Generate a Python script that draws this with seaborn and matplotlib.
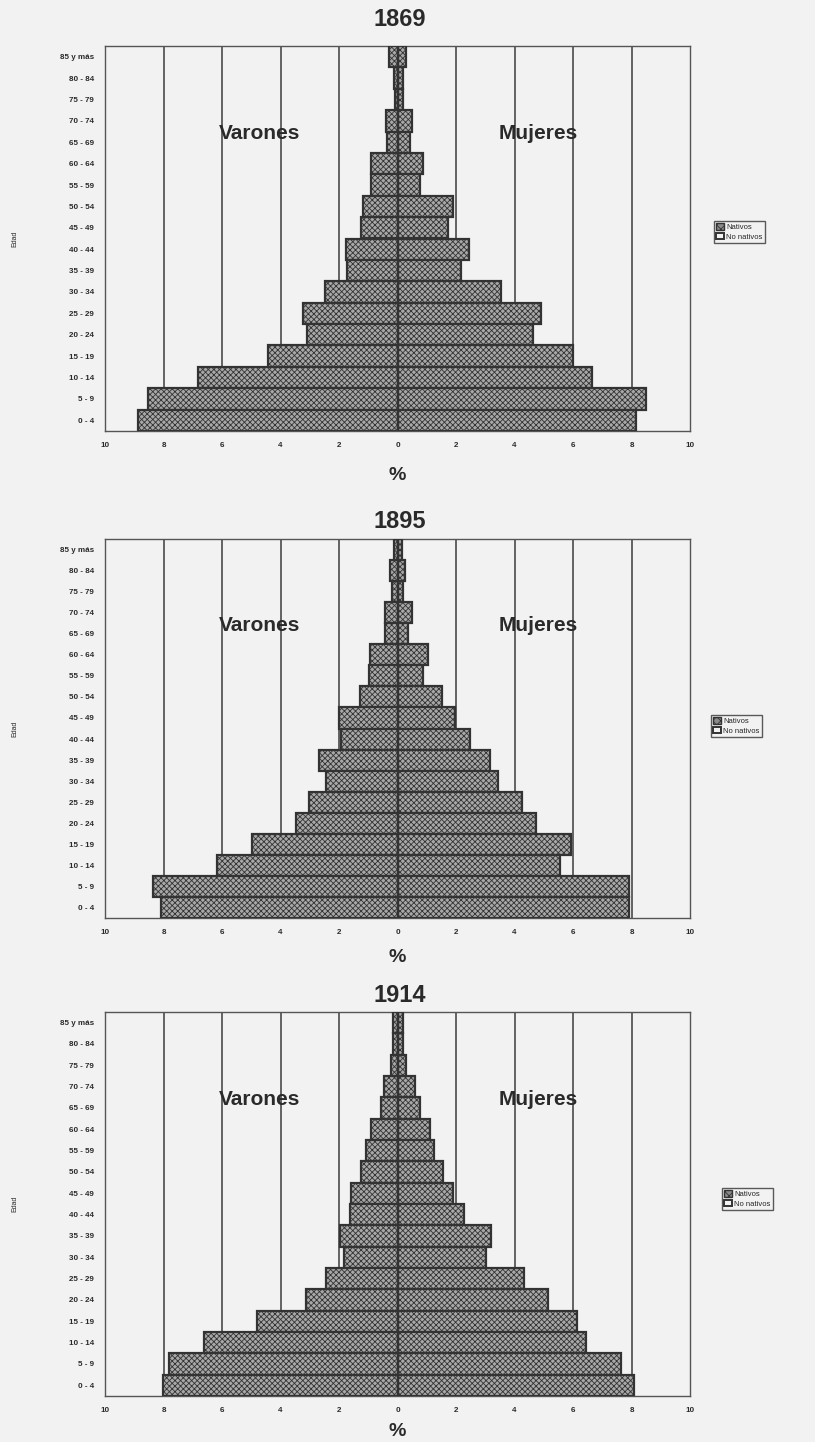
import numpy as np
import pandas as pd
import seaborn as sns
import matplotlib.pyplot as plt
from matplotlib.patches import Patch

# age groups, listed top (oldest) to bottom (youngest)
ages = ['85 y más', '80 - 84', '75 - 79', '70 - 74', '65 - 69', '60 - 64',
        '55 - 59', '50 - 54', '45 - 49', '40 - 44', '35 - 39', '30 - 34',
        '25 - 29', '20 - 24', '15 - 19', '10 - 14', '5 - 9', '0 - 4']

years = ['1869', '1895', '1914']

varones_1869 = [0.28, 0.11, 0.09, 0.40, 0.37, 0.91, 0.92, 1.19, 1.26, 1.77,
                1.74, 2.48, 3.22, 3.10, 4.44, 6.81, 8.54, 8.88]
mujeres_1869 = [0.29, 0.20, 0.18, 0.51, 0.43, 0.86, 0.77, 1.91, 1.74, 2.44,
                2.16, 3.55, 4.89, 4.64, 5.99, 6.66, 8.50, 8.15]

varones_1895 = [0.12, 0.24, 0.20, 0.43, 0.43, 0.95, 0.97, 1.29, 2.00, 1.92,
                2.69, 2.46, 3.01, 3.48, 4.97, 6.16, 8.36, 8.09]
mujeres_1895 = [0.15, 0.25, 0.20, 0.48, 0.37, 1.03, 0.88, 1.52, 1.97, 2.49,
                3.15, 3.44, 4.26, 4.73, 5.93, 5.54, 7.91, 7.91]

varones_1914 = [0.15, 0.15, 0.23, 0.46, 0.58, 0.90, 1.07, 1.24, 1.60, 1.64,
                1.95, 1.83, 2.45, 3.13, 4.82, 6.63, 7.81, 8.02]
mujeres_1914 = [0.20, 0.18, 0.28, 0.61, 0.78, 1.10, 1.24, 1.56, 1.90, 2.28,
                3.21, 3.01, 4.32, 5.14, 6.12, 6.44, 7.65, 8.10]

x_ticks = [-10, -8, -6, -4, -2, 0, 2, 4, 6, 8, 10]
x_tick_labels = ['10', '8', '6', '4', '2', '0', '2', '4', '6', '8', '10']
legend_labels = ['Nativos', 'No nativos']

W, H = 815, 1442
background_color = '#f2f2f2'
ink = '#333333'

sns.set_theme(style='white')
plt.rcParams['font.family'] = ['Liberation Sans', 'DejaVu Sans']
plt.rcParams['hatch.color'] = '#2e2e2e'
plt.rcParams['hatch.linewidth'] = 0.6

fig = plt.figure(figsize=(W / 100, H / 100), dpi=100, facecolor=background_color)


def px(x, y):
    return x / W, 1 - y / H


# (axes top px, axes bottom px, title y, "%" y, legend box top y, legend x)
panels = [
    (years[0], varones_1869, mujeres_1869, 46, 431, 20, 475, 221, 714),
    (years[1], varones_1895, mujeres_1895, 539, 918, 521, 957, 715, 711),
    (years[2], varones_1914, mujeres_1914, 1012, 1396, 995, 1431, 1188, 722),
]

for year, men, women, top, bottom, title_y, pct_y, leg_y, leg_x in panels:
    left, right = 105, 690
    ax = fig.add_axes([left / W, 1 - bottom / H, (right - left) / W, (bottom - top) / H])
    ax.set_facecolor(background_color)

    df = pd.DataFrame({
        'edad': ages * 2,
        'sexo': ['Varones'] * len(ages) + ['Mujeres'] * len(ages),
        'pct': [-v for v in men] + list(women),
    })

    for x in range(-8, 10, 2):
        ax.axvline(x, color='#3c3c3c', lw=1.1, zorder=0)

    sns.barplot(data=df, x='pct', y='edad', hue='sexo', order=ages,
                palette=['#a8a8a8', '#a8a8a8'], dodge=False, orient='h',
                width=1.0, errorbar=None, legend=False, saturation=1,
                ax=ax, zorder=3)
    for p in ax.patches:
        p.set_hatch('xxxxxx')
        p.set_edgecolor(ink)
        p.set_linewidth(1.6)

    ax.axvline(0, color=ink, lw=1.6, zorder=4)
    ax.set_xlim(-10, 10)
    ax.set_ylim(len(ages) - 0.5, -0.5)
    ax.set_xticks(x_ticks)
    ax.set_xticklabels(x_tick_labels)
    ax.tick_params(axis='both', length=0, labelsize=5.8, colors='#2a2a2a', pad=8)
    for lab in ax.get_yticklabels() + ax.get_xticklabels():
        lab.set_fontweight('bold')
    ax.set_xlabel('')
    ax.set_ylabel('')
    for s in ['left', 'right', 'top', 'bottom']:
        ax.spines[s].set_visible(True)
        ax.spines[s].set_color('#555555')
        ax.spines[s].set_linewidth(1.0)

    ax.text(-6.1, 3.6, 'Varones', fontsize=15, fontweight='bold', color='#2a2a2a',
            ha='left', va='center', zorder=5)
    ax.text(3.45, 3.6, 'Mujeres', fontsize=15, fontweight='bold', color='#2a2a2a',
            ha='left', va='center', zorder=5)

    fig.text(*px(400, title_y), year, fontsize=17, fontweight='bold', color='#2a2a2a',
             ha='center', va='center')
    fig.text(*px(397, pct_y), '%', fontsize=14, fontweight='bold', color='#2a2a2a',
             ha='center', va='center')
    fig.text(*px(15, (top + bottom) / 2), 'Edad', fontsize=5, rotation=90,
             color='#2a2a2a', ha='center', va='center')

    handles = [Patch(facecolor='#8a8a8a', edgecolor=ink, hatch='xxxx', lw=1.0),
               Patch(facecolor='#f2f2f2', edgecolor=ink, lw=1.4)]
    fig.legend(handles, legend_labels, loc='upper left', bbox_to_anchor=px(leg_x, leg_y),
               fontsize=5.5, frameon=True, fancybox=False, edgecolor=ink,
               facecolor=background_color, handlelength=1.0, handleheight=0.9,
               handletextpad=0.3, borderpad=0.3, labelspacing=0.25, borderaxespad=0)

plt.savefig('out.png', dpi=100, facecolor=background_color)
